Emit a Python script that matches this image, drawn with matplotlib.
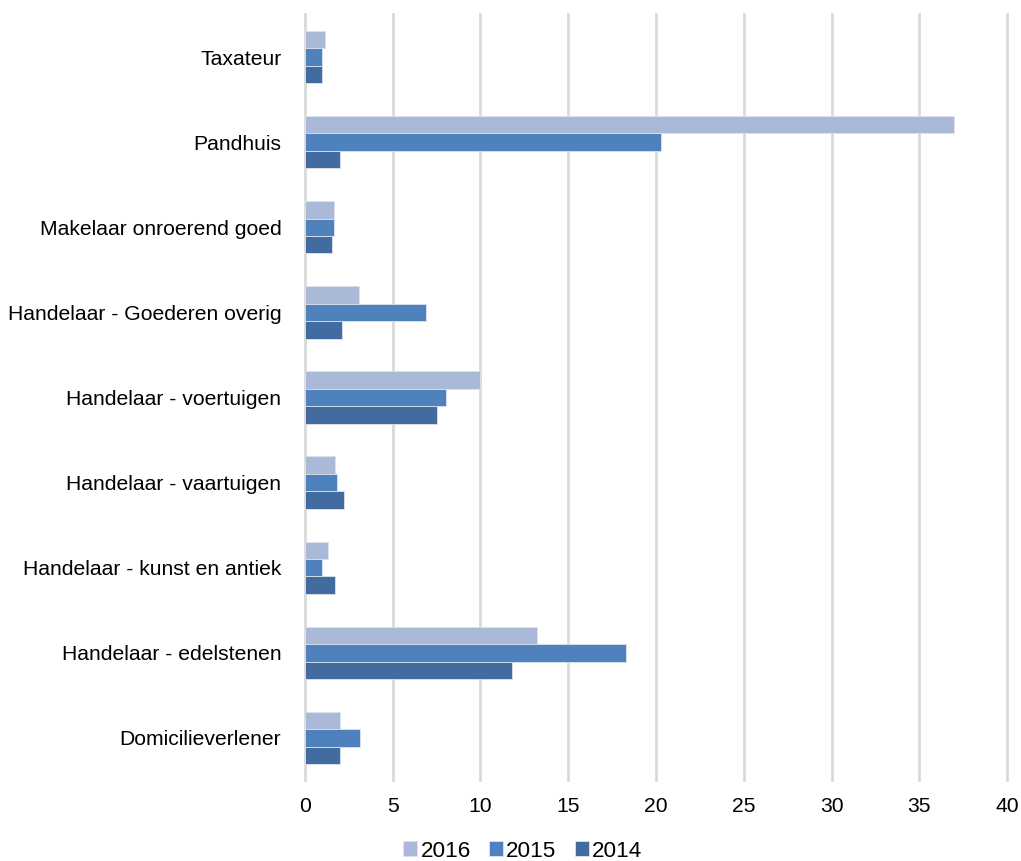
import matplotlib.pyplot as plt
import numpy as np

plt.rcParams['font.family'] = ['Liberation Sans', 'DejaVu Sans']

# Categories, top to bottom as in the chart
categories = ['Taxateur', 'Pandhuis', 'Makelaar onroerend goed',
              'Handelaar - Goederen overig', 'Handelaar - voertuigen',
              'Handelaar - vaartuigen', 'Handelaar - kunst en antiek',
              'Handelaar - edelstenen', 'Domicilieverlener']

years = ['2016', '2015', '2014']
v2016 = [1.15, 37.0, 1.67, 3.08, 9.97, 1.73, 1.33, 13.2, 1.99]
v2015 = [0.97, 20.3, 1.63, 6.91, 8.05, 1.84, 0.99, 18.3, 3.13]
v2014 = [0.97, 1.99, 1.52, 2.13, 7.54, 2.22, 1.73, 11.8, 1.99]
colors = ['#AAB9D7', '#4F81BD', '#426B9F']

fig = plt.figure(figsize=(10.21, 8.61), dpi=100)
ax = fig.add_axes([0.2987, 0.0935, 0.6876, 0.8897])

y = np.arange(len(categories))
h = 0.205
for i, (vals, yr) in enumerate(zip([v2016, v2015, v2014], years)):
    ax.barh(y + (i - 1) * h, vals, height=h, color=colors[i],
            edgecolor='#DCE3EF', linewidth=0.6, label=yr, zorder=3)

ax.set_ylim(len(categories) - 0.5, -0.5)
ax.set_xlim(0, 40)
ax.set_xticks(np.arange(0, 41, 5))
ax.set_yticks(y)
ax.set_yticklabels(categories)

ax.grid(axis='x', color='#D9D9D9', linewidth=2, zorder=0)
for gl in ax.get_xgridlines():
    gl.set_clip_on(False)
for s in ax.spines.values():
    s.set_visible(False)
ax.tick_params(axis='both', length=0, labelsize=15.2, colors='black')
ax.tick_params(axis='x', pad=12)
ax.tick_params(axis='y', pad=17)

ax.legend(loc='center', bbox_to_anchor=(0.512, 0.0115), ncol=3, frameon=False,
          fontsize=16.2, handlelength=0.62, handleheight=0.62, handletextpad=0.15,
          columnspacing=0.8, borderpad=0, bbox_transform=fig.transFigure)

fig.savefig('out.png', dpi=100)
